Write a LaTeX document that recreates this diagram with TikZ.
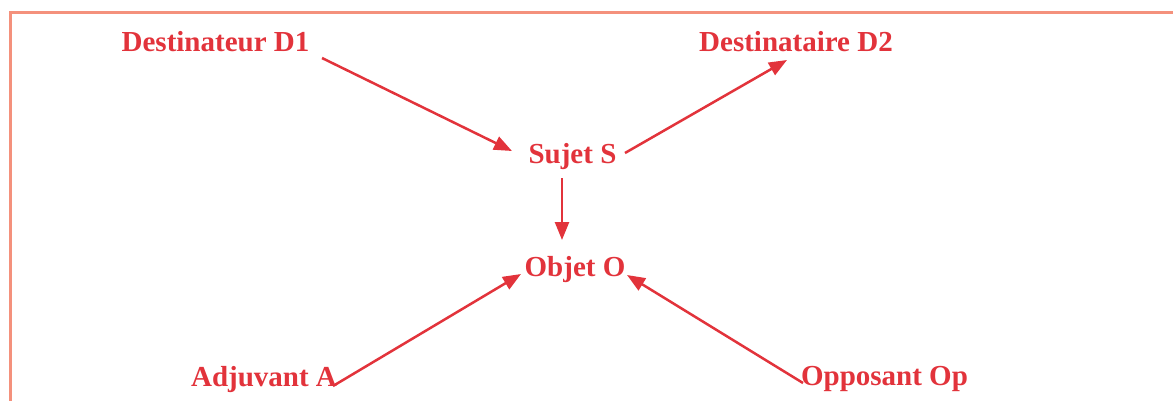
\documentclass[tikz,border=0pt]{standalone}
\usepackage{fontspec}
\setmainfont{Liberation Serif}
\usetikzlibrary{arrows.meta}
\definecolor{txtred}{HTML}{E2333B}
\definecolor{frame}{HTML}{F4917C}
\begin{document}
\begin{tikzpicture}[x=1pt,y=-1pt,
  lbl/.style={anchor=base,inner sep=0pt,text=txtred,font=\fontsize{29}{31}\selectfont\bfseries},
  arr/.style={draw=txtred,line width=2.5pt,-{Triangle[length=18pt,width=14pt]}}]
\useasboundingbox (0,0) rectangle (1173,400);
\draw[frame,line width=3pt] (10,402) -- (10,12) -- (1175,12);
\node[lbl] (d1) at (215.5,51) {Destinateur D1};
\node[lbl] (d2) at (796,51) {Destinataire D2};
\node[lbl] (s) at (572.5,163) {Sujet S};
\node[lbl] (o) at (575,276) {Objet O};
\node[lbl] (a) at (264,386) {Adjuvant A};
\node[lbl] (op) at (884.5,385) {Opposant Op};
\draw[arr] ([shift={(106.5,7)}]d1.base) -- ([shift={(-60.5,-12)}]s.base);
\draw[arr] ([shift={(52.5,-10)}]s.base) -- ([shift={(-9,9)}]d2.base);
\draw[arr] ([shift={(-10.5,15)}]s.base) -- ([shift={(-13,-36)}]o.base);
\draw[arr] ([shift={(69,0)}]a.base) -- ([shift={(-54,-2)}]o.base);
\draw[arr] ([shift={(-81.5,-2)}]op.base) -- ([shift={(52,-1)}]o.base);
\end{tikzpicture}
\end{document}
